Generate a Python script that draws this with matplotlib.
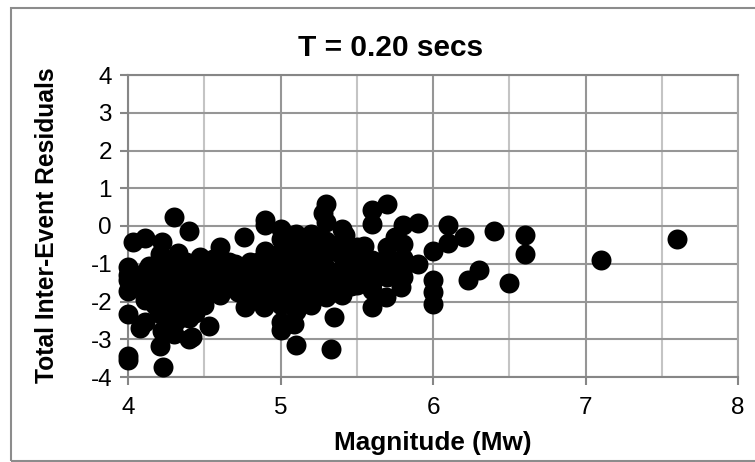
import matplotlib
matplotlib.use("Agg")
import matplotlib.pyplot as plt
from matplotlib.patches import Rectangle

plt.rcParams['font.family'] = ['Liberation Sans', 'DejaVu Sans']
plt.rcParams['axes.unicode_minus'] = False

mag_low = [4.0,4.0,4.0,4.0,4.0,4.0,4.0,4.03,4.11,4.08,4.11,4.12,4.11,4.08,4.14,4.16,4.22,4.21,4.22,4.23,4.21,4.21,4.22,4.25,4.25,4.25,4.3,4.33,4.3,4.3,4.3,4.3,4.3,4.35,4.35,4.35,4.35,4.4,4.4,4.4,4.4,4.4,4.42,4.45,4.47,4.5,4.5,4.5,4.53,4.55,4.56,4.6,4.6,4.6,4.6,4.62,4.65,4.18,4.22,4.28,4.4,4.14,4.18,4.26,4.35,4.45,4.52,4.68,4.3,4.38,
           4.05,4.05,4.18,4.18,4.2,4.25,4.25,4.28,4.33,4.38,4.42,4.45,4.45,4.5,4.55,4.55,4.6,4.64,4.68,4.24,4.34,4.44,
           4.66,4.7,4.16,4.2,4.48,4.58]
res_low = [-3.45,-3.56,-2.34,-1.09,-1.3,-1.44,-1.71,-0.43,-0.31,-2.7,-2.55,-1.2,-1.97,-1.55,-1.5,-1.75,-0.43,-0.74,-2.35,-3.74,-3.17,-2.05,-2.77,-1.3,-1.9,-2.45,0.25,-0.71,-1.2,-1.6,-2.0,-2.3,-2.6,-1.0,-1.35,-1.75,-2.2,-0.14,-1.1,-1.5,-1.85,-3.0,-2.95,-1.4,-0.83,-1.25,-1.7,-2.1,-2.64,-1.5,-0.87,-0.56,-0.95,-1.3,-1.84,-1.5,-1.1,-1.05,-1.0,-1.05,-2.45,-1.05,-1.35,-1.6,-1.55,-1.0,-1.55,-1.2,-2.85,-0.95,
           -1.3,-1.6,-1.6,-2.1,-1.2,-1.1,-1.6,-2.2,-1.45,-1.25,-1.65,-1.1,-1.9,-1.45,-1.2,-1.75,-1.6,-1.35,-1.6,-2.2,-2.45,-2.3,
           -0.95,-1.2,-1.85,-2.3,-2.0,-1.45]

mag_mid = [4.7,4.7,4.72,4.76,4.78,4.8,4.8,4.8,4.77,4.85,4.85,4.9,4.9,4.9,4.9,4.9,4.89,4.95,4.95,5.0,5.0,5.0,5.0,5.0,5.0,5.0,5.0,5.0,5.05,5.05,5.05,5.05,5.05,5.09,5.1,5.1,5.1,5.1,5.1,5.1,5.1,5.1,5.15,5.15,5.15,5.15,5.15,5.2,5.2,5.2,5.2,5.2,5.2,5.2,5.25,5.25,5.25,5.25,5.25,5.28,5.3,5.3,5.3,5.3,5.3,5.3,5.3,5.33,5.35,5.4,5.4,5.4,5.4,5.4,5.4,5.45,5.45,5.5,5.5,5.5,5.5,5.55,
           4.74,4.74,4.82,4.86,4.86,4.82,4.95,4.95,5.04,5.04,5.08,5.12,5.18,5.22,5.28,5.34,5.34,5.36,5.44,5.44,
           5.46,5.5,5.32,5.42,5.48]
res_mid = [-1.0,-1.4,-1.75,-0.3,-1.6,-0.95,-1.3,-1.95,-2.15,-0.95,-1.75,0.15,0.02,-0.65,-1.05,-1.45,-2.15,-0.8,-1.85,-0.09,-0.35,-0.7,-1.05,-1.4,-1.75,-2.1,-2.55,-2.75,-0.5,-0.9,-1.25,-1.65,-2.0,-2.59,-0.2,-0.5,-0.85,-1.2,-1.55,-1.9,-2.25,-3.14,-0.6,-1.0,-1.35,-1.75,-2.05,-0.2,-0.5,-0.85,-1.2,-1.5,-1.8,-2.1,-0.35,-0.7,-0.95,-1.4,-1.7,0.35,0.59,0.1,-0.4,-0.75,-1.1,-1.5,-1.88,-3.27,-2.42,-0.07,-0.4,-0.8,-1.15,-1.5,-1.84,-0.95,-1.25,-0.85,-1.05,-1.3,-0.55,-0.52,
           -1.15,-1.5,-1.15,-1.25,-1.55,-1.7,-1.15,-1.5,-1.1,-1.45,-1.75,-0.35,-0.3,-1.65,-0.55,-0.6,-1.3,-1.7,-0.75,-1.45,
           -1.6,-1.55,-1.3,-0.25,-0.6]

mag_high = [5.6,5.6,5.6,5.6,5.6,5.6,5.6,5.6,5.7,5.7,5.7,5.69,5.7,5.7,5.75,5.8,5.8,5.8,5.8,5.79,5.8,5.9,5.9,6.0,6.0,6.0,6.0,6.1,6.1,6.2,6.23,6.3,6.4,6.5,6.6,6.6,7.1,7.6]
res_high = [0.43,0.06,-1.27,-1.5,-1.7,-2.15,-0.9,-1.05,0.57,-0.56,-0.8,-1.89,-1.1,-1.35,-0.3,0.03,-0.47,-0.85,-1.36,-1.62,-1.1,0.08,-1.0,-0.65,-1.43,-1.75,-2.06,0.03,-0.45,-0.28,-1.43,-1.16,-0.14,-1.5,-0.24,-0.75,-0.9,-0.35]

x_ticks = [4,5,6,7,8]
x_minor = [4.5,5.5,6.5,7.5]
y_ticks = [-4,-3,-2,-1,0,1,2,3,4]

fig = plt.figure(figsize=(7.55,4.62), dpi=100)
fig.add_artist(Rectangle((10.5/755,1-461/462),760/755,453/462,transform=fig.transFigure,fill=False,edgecolor='#8c8c8c',linewidth=1.5))

ax = fig.add_axes([128/755,1-377/462,610/755,302/462])
ax.scatter(mag_low+mag_mid+mag_high,res_low+res_mid+res_high,s=207,color='black',linewidths=0,zorder=3,clip_on=False)
ax.set_xlim(4,8)
ax.set_ylim(-4,4)
ax.set_xticks(x_ticks)
ax.set_xticks(x_minor,minor=True)
ax.set_yticks(y_ticks)
ax.grid(True,which='major',color='#969696',linewidth=1.5)
ax.grid(True,which='minor',axis='x',color='#c4c4c4',linewidth=1.5)
ax.set_axisbelow(True)
for s in ['left','bottom','top','right']:
    ax.spines[s].set_color('#868686')
    ax.spines[s].set_linewidth(1.5)
ax.spines['right'].set_color('#a8a8a8')
ax.tick_params(which='major',colors='black',labelsize=17.5,length=5.5,width=1.5,color='#868686')
ax.tick_params(which='minor',length=0)
ax.tick_params(axis='x',pad=9)
ax.tick_params(axis='y',pad=6)
fig.text(391/755,1-48/462,'T = 0.20 secs',fontsize=21.5,fontweight='bold',ha='center',va='center')
fig.text(433/755,1-443/462,'Magnitude (Mw)',fontsize=18.8,fontweight='bold',ha='center',va='center')
fig.text(47/755,1-225/462,'Total Inter-Event Residuals',fontsize=17.7,fontweight='bold',ha='center',va='center',rotation=90)

fig.savefig('out.png',dpi=100)
